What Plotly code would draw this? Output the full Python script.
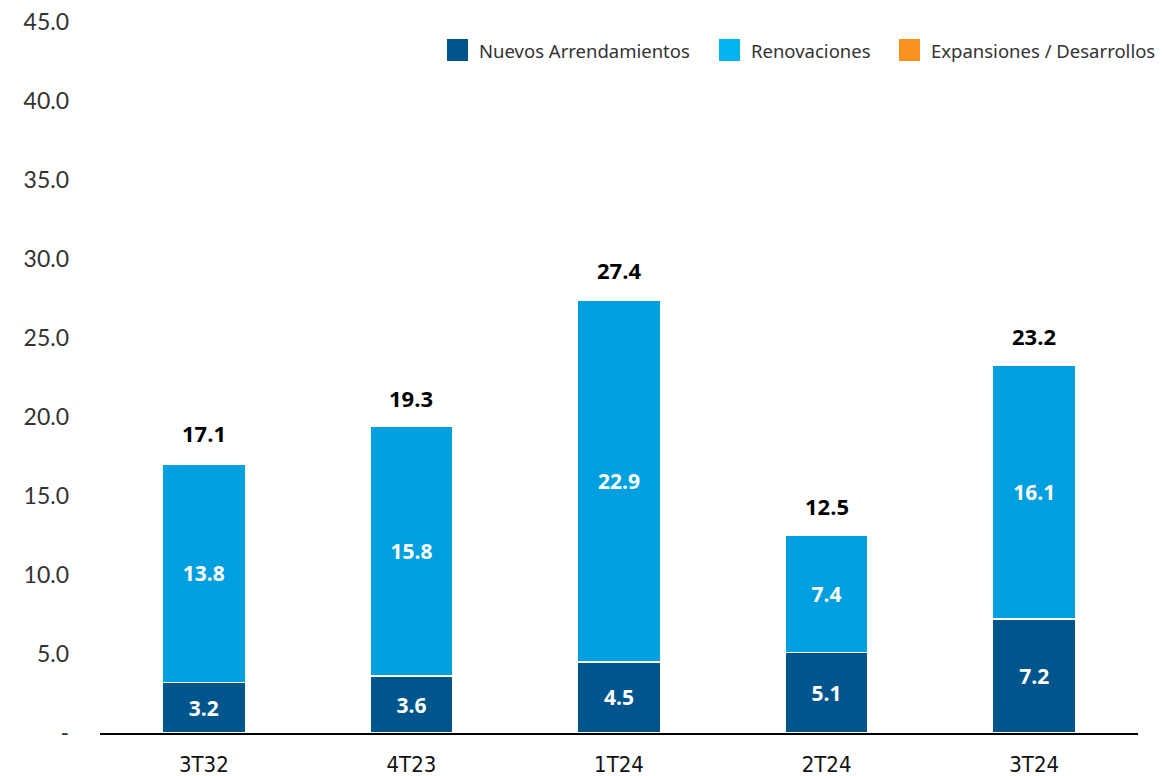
import plotly.graph_objects as go

# Quarterly leased area by type
quarters = ["3T32", "4T23", "1T24", "2T24", "3T24"]
nuevos = [3.2, 3.6, 4.5, 5.1, 7.2]
renovaciones = [13.8, 15.8, 22.9, 7.4, 16.1]
expansiones = [0.0, 0.0, 0.0, 0.0, 0.0]
totales = [17.1, 19.3, 27.4, 12.5, 23.2]

series_names = ["Nuevos Arrendamientos", "Renovaciones", "Expansiones / Desarrollos"]

tick_vals = [0, 5, 10, 15, 20, 25, 30, 35, 40, 45]
tick_text = ["-", "5.0", "10.0", "15.0", "20.0", "25.0", "30.0", "35.0", "40.0", "45.0"]

C_NUEVOS = "#00558C"
C_RENOV = "#009FDF"
C_RENOV_LEG = "#00B5F0"
C_EXP = "#F7931E"

W, H = 1163, 776
M_L, M_R, M_T, M_B = 100, 25, 22, 43
PW, PH = W - M_L - M_R, H - M_T - M_B


def px_to_paper(x_px, y_px):
    return (x_px - M_L) / PW, (H - M_B - y_px) / PH


fig = go.Figure()

label_font = dict(family="Open Sans, Noto Sans, sans-serif", size=21, color="white", weight="bold")

fig.add_trace(go.Bar(
    x=quarters, y=nuevos, name=series_names[0],
    marker=dict(color=C_NUEVOS, line=dict(color="white", width=1.5)),
    text=[f"{v:.1f}" for v in nuevos], textposition="inside",
    insidetextanchor="middle", textfont=label_font,
    showlegend=False,
))
fig.add_trace(go.Bar(
    x=quarters, y=renovaciones, name=series_names[1],
    marker=dict(color=C_RENOV, line=dict(color="white", width=1.5)),
    text=[f"{v:.1f}" for v in renovaciones], textposition="inside",
    insidetextanchor="middle", textfont=label_font,
    showlegend=False,
))
fig.add_trace(go.Bar(
    x=quarters, y=expansiones, name=series_names[2],
    marker=dict(color=C_EXP, line=dict(width=0)),
    showlegend=False,
))

# Totals above each bar
for q, t in zip(quarters, totales):
    fig.add_annotation(
        x=q, y=t, text=f"<b>{t:.1f}</b>", showarrow=False,
        yanchor="bottom", yshift=13,
        font=dict(family="Open Sans, Noto Sans, sans-serif", size=22, color="black"),
    )

# Legend row: square swatch + label
legend_items = [(447, series_names[0], C_NUEVOS),
                (719, series_names[1], C_RENOV_LEG),
                (899, series_names[2], C_EXP)]
for x0, name, col in legend_items:
    xa, ya = px_to_paper(x0, 39)
    xb, yb = px_to_paper(x0 + 21, 61)
    fig.add_shape(type="rect", xref="paper", yref="paper",
                  x0=xa, x1=xb, y0=yb, y1=ya,
                  fillcolor=col, line=dict(width=0))
    xt, yt = px_to_paper(x0 + 30, 50)
    fig.add_annotation(xref="paper", yref="paper", x=xt, y=yt,
                       text=name, showarrow=False,
                       xanchor="left", yanchor="middle",
                       font=dict(family="Noto Sans, sans-serif", size=18.5, color="#333333"))

fig.update_layout(
    width=W, height=H,
    margin=dict(l=M_L, r=M_R, t=M_T, b=M_B, autoexpand=False),
    plot_bgcolor="white", paper_bgcolor="white",
    barmode="stack", bargap=0.6,
    showlegend=False,
    xaxis=dict(
        showline=True, linecolor="black", linewidth=2,
        showgrid=False, ticks="", automargin=False,
        tickfont=dict(family="DejaVu Sans Condensed, sans-serif", size=22, color="#111111"),
        ticklabelstandoff=11,
    ),
    yaxis=dict(
        range=[0, 45], tickvals=tick_vals, ticktext=tick_text,
        showgrid=False, zeroline=False, showline=False, ticks="", automargin=False,
        tickfont=dict(family="Lato, Noto Sans, sans-serif", size=23, color="#333333"),
        ticklabelstandoff=30,
    ),
)

fig.write_html("out.html")
